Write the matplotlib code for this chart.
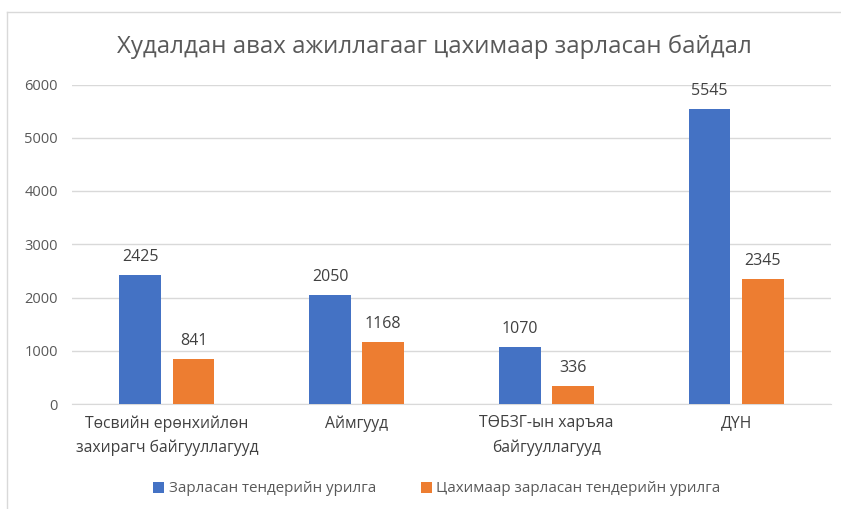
import matplotlib
matplotlib.use("Agg")
import matplotlib.pyplot as plt
import numpy as np
from matplotlib.lines import Line2D

categories = ["Төсвийн ерөнхийлөн\nзахирагч байгууллагууд", "Аймгууд",
              "ТӨБЗГ-ын харъяа\nбайгууллагууд", "ДҮН"]
series_names = ["Зарласан тендерийн урилга", "Цахимаар зарласан тендерийн урилга"]
announced = [2425, 2050, 1070, 5545]
electronic = [841, 1168, 336, 2345]
yticks = [0, 1000, 2000, 3000, 4000, 5000, 6000]
title = "Худалдан авах ажиллагааг цахимаар зарласан байдал"

plt.rcParams['font.family'] = ['Open Sans', 'DejaVu Sans']
txt = '#595959'
blue = '#4472C4'
orange = '#ED7D31'

fig = plt.figure(figsize=(8.41, 5.09), dpi=100)
ax = fig.add_axes([72/841, 1-404/509, (831-72)/841, (404-84.5)/509])

x = np.arange(len(categories))
w = 0.22
off = 0.14
b1 = ax.bar(x - off, announced, w, color=blue, label=series_names[0], zorder=3)
b2 = ax.bar(x + off, electronic, w, color=orange, label=series_names[1], zorder=3)
for bars in (b1, b2):
    for r in bars:
        ax.annotate(f"{int(r.get_height())}", (r.get_x() + r.get_width()/2, r.get_height()),
                    xytext=(0, 7), textcoords='offset points', ha='center', va='bottom',
                    fontsize=11.5, color='#404040')

ax.set_xlim(-0.5, 3.5)
ax.set_ylim(0, 6000)
ax.set_yticks(yticks)
ax.set_yticklabels([str(v) for v in yticks], fontsize=10.5, color=txt)
ax.set_xticks(x)
ax.set_xticklabels(categories, fontsize=11.3, color='#404040', linespacing=1.65)
ax.tick_params(axis='both', length=0)
ax.tick_params(axis='y', pad=10)
ax.tick_params(axis='x', pad=8)
ax.grid(axis='y', color='#D9D9D9', linewidth=1, zorder=0)
for s in ['top', 'right', 'left']:
    ax.spines[s].set_visible(False)
ax.spines['bottom'].set_color('#D9D9D9')

fig.text(434/841, 1-47/509, title, ha='center', va='center', fontsize=17.3, color=txt)

leg = fig.legend(handles=[b1, b2], labels=series_names, loc='center',
                 bbox_to_anchor=(437/841, 1-489/509), ncol=2, frameon=False,
                 fontsize=10.9, handlelength=0.7, handleheight=0.7, handletextpad=0.3,
                 columnspacing=3.0)
for t in leg.get_texts():
    t.set_color(txt)

fig.lines.append(Line2D([7/841, 1], [1-12/509, 1-12/509], transform=fig.transFigure,
                        color='#D9D9D9', linewidth=1))
fig.lines.append(Line2D([7/841, 7/841], [0, 1-12/509], transform=fig.transFigure,
                        color='#D9D9D9', linewidth=1))

fig.savefig("out.png", dpi=100, facecolor='white')
